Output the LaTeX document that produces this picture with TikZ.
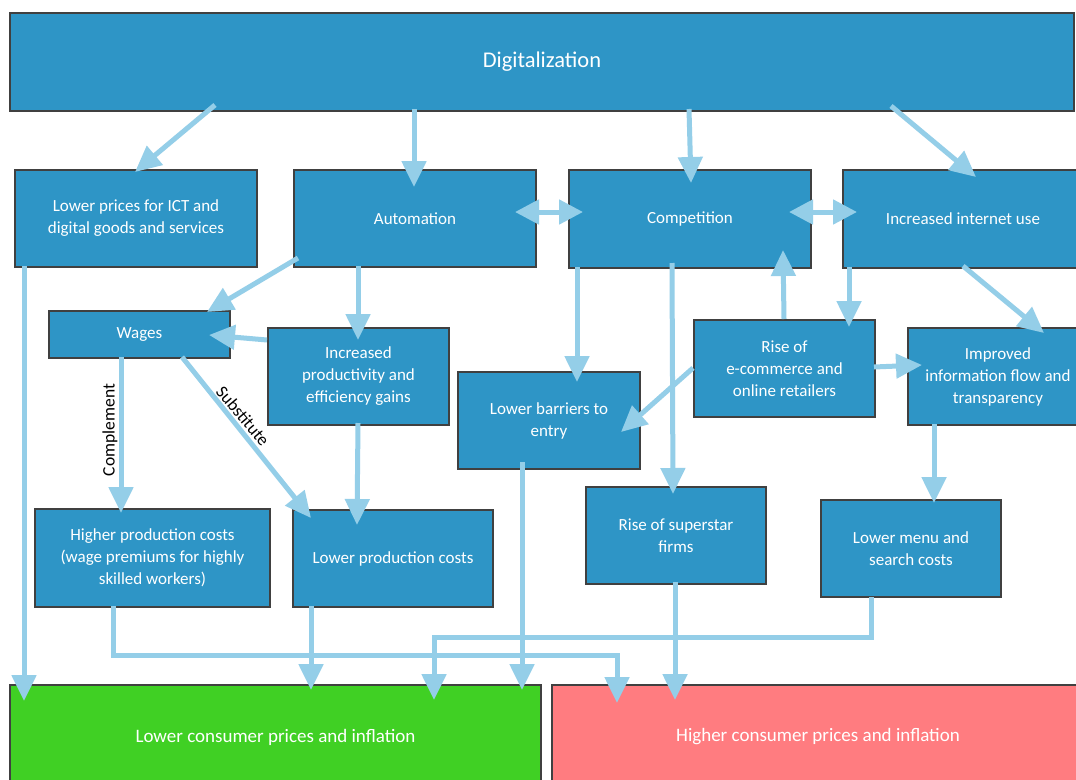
\documentclass[tikz,border=0pt]{standalone}
\usepackage{fontspec}
\setmainfont{Carlito}
\usetikzlibrary{arrows.meta,calc}
\definecolor{boxblue}{RGB}{46,149,198}
\definecolor{arrblue}{RGB}{148,206,232}
\definecolor{edgegrey}{RGB}{64,64,64}
\definecolor{lowgreen}{RGB}{64,208,36}
\definecolor{highred}{RGB}{255,124,128}
\begin{document}
\begin{tikzpicture}[x=1pt,y=-1pt,
  bx/.style={draw=edgegrey,line width=2pt,fill=boxblue,text=white,align=center,
    anchor=north west,inner sep=0pt,font=\fontsize{17}{22}\selectfont},
  arr/.style={draw=arrblue,line width=5pt,-{Triangle[length=26pt,width=24pt]}},
  darr/.style={draw=arrblue,line width=5pt,{Triangle[length=24pt,width=24pt]}-{Triangle[length=24pt,width=24pt]}},
  lbl/.style={text=black,font=\fontsize{17.5}{19}\selectfont,inner sep=0pt}]
\useasboundingbox (0,0) rectangle (1076,779);
\clip (0,0) rectangle (1076,779);
\fill[white] (0,0) rectangle (1076,779);
% boxes
\node[bx,minimum width=1064pt,minimum height=98pt,font=\fontsize{22.5}{26}\selectfont] (digi) at (9,12) {Digitalization};
\node[bx,minimum width=242pt,minimum height=97pt] (lp) at (14,169) {Lower prices for ICT and\\digital goods and services};
\node[bx,minimum width=242pt,minimum height=97pt] (auto) at (293,169) {Automation};
\node[bx,minimum width=242pt,minimum height=98pt] (comp) at (568,169) {Competition};
\node[bx,minimum width=240pt,minimum height=98pt] (inet) at (842,169) {Increased internet use};
\node[bx,minimum width=181pt,minimum height=47pt] (wages) at (48,310) {Wages};
\node[bx,minimum width=181pt,minimum height=97pt] (prod) at (267,327) {Increased\\productivity and\\efficiency gains};
\node[bx,minimum width=182pt,minimum height=97pt] (barr) at (457,371) {Lower barriers to\\entry};
\node[bx,minimum width=181pt,minimum height=97pt] (ecom) at (693,319) {Rise of\\e-commerce and\\online retailers};
\node[bx,minimum width=180pt,minimum height=97pt] (info) at (907,327) {Improved\\information flow and\\transparency};
\node[bx,minimum width=235pt,minimum height=98pt] (hpc) at (34,508) {Higher production costs\\(wage premiums for highly\\skilled workers)};
\node[bx,minimum width=200pt,minimum height=97pt] (lpc) at (292,509) {Lower production costs};
\node[bx,minimum width=180pt,minimum height=97pt] (sup) at (585,486) {Rise of superstar\\firms};
\node[bx,minimum width=180pt,minimum height=97pt] (menu) at (820,499) {Lower menu and\\search costs};
\node[bx,fill=lowgreen,minimum width=531pt,minimum height=104pt,font=\fontsize{19}{22}\selectfont] (lcp) at (9,684) {Lower consumer prices and inflation};
\node[bx,fill=highred,minimum width=532pt,minimum height=104pt,font=\fontsize{19}{22}\selectfont] (hcp) at (551,684) {Higher consumer prices and inflation};
% connectors
\draw[arr] ($(digi.north west)+(206,93)$) -- ($(lp.north west)+(121,3)$);
\draw[arr] ($(digi.north west)+(405,97)$) -- ($(auto.north west)+(121,18)$);
\draw[arr] ($(digi.north west)+(680,97)$) -- ($(comp.north west)+(123,14)$);
\draw[arr] ($(digi.north west)+(882,94)$) -- ($(inet.north west)+(134,8)$);
\draw[darr] ($(auto.north west)+(222,43)$) -- ($(comp.north west)+(15,43)$);
\draw[darr] ($(comp.north west)+(221,43)$) -- ($(inet.north west)+(15,43)$);
\draw[arr] ($(auto.north west)+(5,89)$) -- ($(wages.north west)+(159,2)$);
\draw[arr] ($(auto.north west)+(65,97)$) -- ($(prod.north west)+(91,13)$);
\draw[arr] ($(prod.north west)+(0,13)$) -- ($(wages.north west)+(161,25)$);
\draw[arr] ($(wages.north west)+(73,47)$) -- ($(hpc.north west)+(87,5)$);
\node[lbl,rotate=90] (cmp) at (110,430) {Complement};
\draw[arr] ($(wages.north west)+(134,47)$) -- ($(lpc.north west)+(19,9)$);
\node[lbl,rotate=-50] (sbs) at (243,416) {Substitute};
\draw[arr] ($(prod.north west)+(91,96)$) -- ($(lpc.north west)+(65,16)$);
\draw[arr] ($(comp.north west)+(9,98)$) -- ($(barr.north west)+(120,11)$);
\draw[arr] ($(comp.north west)+(104,94)$) -- ($(sup.north west)+(88,8)$);
\draw[arr] ($(ecom.north west)+(91,0)$) -- ($(comp.north west)+(215,81)$);
\draw[arr] ($(inet.north west)+(7,98)$) -- ($(ecom.north west)+(156,8)$);
\draw[arr] ($(inet.north west)+(121,97)$) -- ($(info.north west)+(137,6)$);
\draw[arr] ($(ecom.north west)+(0,49)$) -- ($(barr.north west)+(164,61)$);
\draw[arr] ($(ecom.north west)+(181,48)$) -- ($(info.north west)+(15,38)$);
\draw[arr] ($(info.north west)+(27,97)$) -- ($(menu.north west)+(114,4)$);
\draw[arr] ($(lp.north west)+(10,97)$) -- ($(lcp.north west)+(15,17)$);
\draw[arr] ($(hpc.north west)+(79,98)$) -- ++(0,49) -| ($(hcp.north west)+(66,19)$);
\draw[arr] ($(lpc.north west)+(19,97)$) -- ($(lcp.north west)+(302,6)$);
\draw[arr] ($(barr.north west)+(65,91)$) -- ($(lcp.north west)+(513,6)$);
\draw[arr] ($(sup.north west)+(90,96)$) -- ($(hcp.north west)+(124,16)$);
\draw[arr] ($(menu.north west)+(51,98)$) -- ++(0,40) -| ($(lcp.north west)+(425,16)$);
\end{tikzpicture}
\end{document}
